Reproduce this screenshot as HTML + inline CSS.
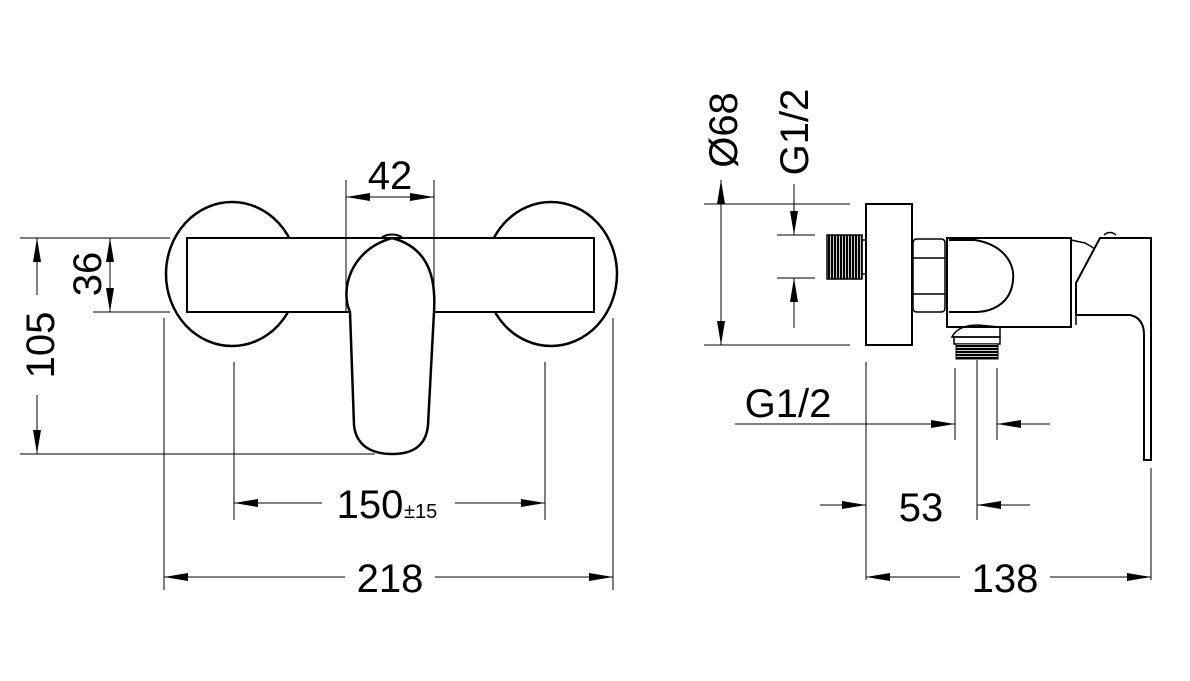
<!DOCTYPE html>
<html><head><style>body{margin:0;background:#fff}svg{display:block}text{font-family:"Liberation Sans",sans-serif;fill:#000}</style></head>
<body>
<svg width="1190" height="681" viewBox="0 0 1190 681" xmlns="http://www.w3.org/2000/svg">
<defs>
<marker id="b" viewBox="0 0 24 8" refX="24" refY="4" markerWidth="24" markerHeight="8" orient="auto-start-reverse" markerUnits="userSpaceOnUse"><path d="M0,0L24,4L0,8z" fill="#000"/></marker>
<pattern id="th" width="4" height="3" patternUnits="userSpaceOnUse"><rect width="4" height="3" fill="#fff"/><rect width="4" height="2.2" fill="#000"/></pattern>
<pattern id="tv" width="3" height="4" patternUnits="userSpaceOnUse"><rect width="3" height="4" fill="#fff"/><rect width="2.2" height="4" fill="#000"/></pattern>
</defs>
<g stroke="#000" fill="none" stroke-width="1">
<ellipse cx="232" cy="274" rx="66" ry="72" stroke-width="2.5"/>
<ellipse cx="232" cy="274" rx="63" ry="69" stroke="#fff" stroke-width="1"/>
<ellipse cx="551" cy="274" rx="66" ry="72" stroke-width="2.5"/>
<ellipse cx="551" cy="274" rx="63" ry="69" stroke="#fff" stroke-width="1"/>
<rect x="187" y="238" width="407" height="74" fill="#fff" stroke-width="2"/>
<path d="M350,312 C340,290 350,250 392,238 C430,248 436,280 434,312 L428,425 C426,448 410,454 392,454 C372,454 356,446 354,425 Z" fill="#fff" stroke-width="2.5"/>
<path d="M382,237 Q392,232 402,237" stroke-width="2"/>
<line x1="20" y1="238" x2="170" y2="238"/>
<line x1="93" y1="312" x2="170" y2="312"/>
<line x1="20" y1="454" x2="375" y2="454"/>
<line x1="37" y1="238" x2="37" y2="295" marker-start="url(#b)"/>
<line x1="37" y1="395" x2="37" y2="454" marker-end="url(#b)"/>
<line x1="110" y1="238" x2="110" y2="312" marker-start="url(#b)" marker-end="url(#b)"/>
<line x1="346" y1="180" x2="346" y2="312"/>
<line x1="434" y1="180" x2="434" y2="312"/>
<line x1="346" y1="197" x2="434" y2="197" marker-start="url(#b)" marker-end="url(#b)"/>
<line x1="164" y1="318" x2="164" y2="590"/>
<line x1="613" y1="318" x2="613" y2="590"/>
<line x1="234" y1="362" x2="234" y2="520"/>
<line x1="545" y1="362" x2="545" y2="520"/>
<line x1="234" y1="503" x2="322" y2="503" marker-start="url(#b)"/>
<line x1="455" y1="503" x2="545" y2="503" marker-end="url(#b)"/>
<line x1="164" y1="577" x2="345" y2="577" marker-start="url(#b)"/>
<line x1="435" y1="577" x2="613" y2="577" marker-end="url(#b)"/>
<rect x="827" y="235" width="35" height="44" fill="url(#tv)" stroke-width="1.5"/>
<rect x="862" y="240" width="5" height="34" stroke-width="1.5"/>
<rect x="866" y="204" width="46" height="141" fill="#fff" stroke-width="2"/>
<path d="M913,243 Q913,239 917,239 L941,239 Q945,239 945,243 L945,308 Q945,312 941,312 L917,312 Q913,312 913,308 Z M913,258 L945,258 M913,294 L945,294" stroke-width="1.5"/>
<rect x="947" y="238" width="124" height="89" fill="#fff" stroke-width="2"/>
<path d="M949,240 L975,240 C1005,245 1015,265 1013,280 C1011,305 990,312 975,312 L949,312" stroke-width="2"/>
<path d="M1071,240 L1085,243 Q1098,250 1100,255" stroke-width="1.5"/>
<path d="M1076,283 L1100,238 L1151,238 L1151,460 L1144,460 L1144,335 Q1144,318 1130,315 L1076,315 Z" fill="#fff" stroke-width="2"/>
<path d="M1076,283 L1076,325" stroke-width="1.5"/>
<path d="M1104,235 Q1110,230 1116,235" stroke-width="1.5"/>
<path d="M952,337 Q958,325 978,325 L1000,327 L1000,337 Z" stroke-width="1.5"/>
<rect x="954" y="337" width="46" height="7" stroke-width="1.5"/>
<rect x="956" y="344" width="42" height="15" fill="url(#th)" stroke-width="1"/>
<line x1="704" y1="204" x2="850" y2="204"/>
<line x1="704" y1="345" x2="850" y2="345"/>
<line x1="721" y1="180" x2="721" y2="345" marker-start="url(#b)" marker-end="url(#b)"/>
<line x1="777" y1="235" x2="815" y2="235"/>
<line x1="777" y1="278" x2="815" y2="278"/>
<line x1="794" y1="184" x2="794" y2="235" marker-end="url(#b)"/>
<line x1="794" y1="328" x2="794" y2="278" marker-end="url(#b)"/>
<line x1="866" y1="362" x2="866" y2="580"/>
<line x1="955" y1="368" x2="955" y2="440"/>
<line x1="997" y1="368" x2="997" y2="440"/>
<line x1="977" y1="360" x2="977" y2="520"/>
<line x1="735" y1="424" x2="955" y2="424" marker-end="url(#b)"/>
<line x1="1050" y1="424" x2="997" y2="424" marker-end="url(#b)"/>
<line x1="820" y1="505" x2="866" y2="505" marker-end="url(#b)"/>
<line x1="1030" y1="505" x2="977" y2="505" marker-end="url(#b)"/>
<line x1="1151" y1="468" x2="1151" y2="580"/>
<line x1="866" y1="577" x2="960" y2="577" marker-start="url(#b)"/>
<line x1="1050" y1="577" x2="1151" y2="577" marker-end="url(#b)"/>
</g>
<g font-size="40">
<text x="390" y="189" text-anchor="middle">42</text>
<text transform="translate(101,274) rotate(-90)" text-anchor="middle">36</text>
<text transform="translate(54,345) rotate(-90)" text-anchor="middle">105</text>
<text x="370" y="518" text-anchor="middle">150</text>
<text x="404" y="518" font-size="20">±15</text>
<text x="390" y="592" text-anchor="middle">218</text>
<text transform="translate(737,130) rotate(-90)" text-anchor="middle">Ø68</text>
<text transform="translate(808,132) rotate(-90)" text-anchor="middle">G1/2</text>
<text x="788" y="417" text-anchor="middle">G1/2</text>
<text x="921" y="521" text-anchor="middle">53</text>
<text x="1005" y="592" text-anchor="middle">138</text>
</g>
</svg>
</body></html>
